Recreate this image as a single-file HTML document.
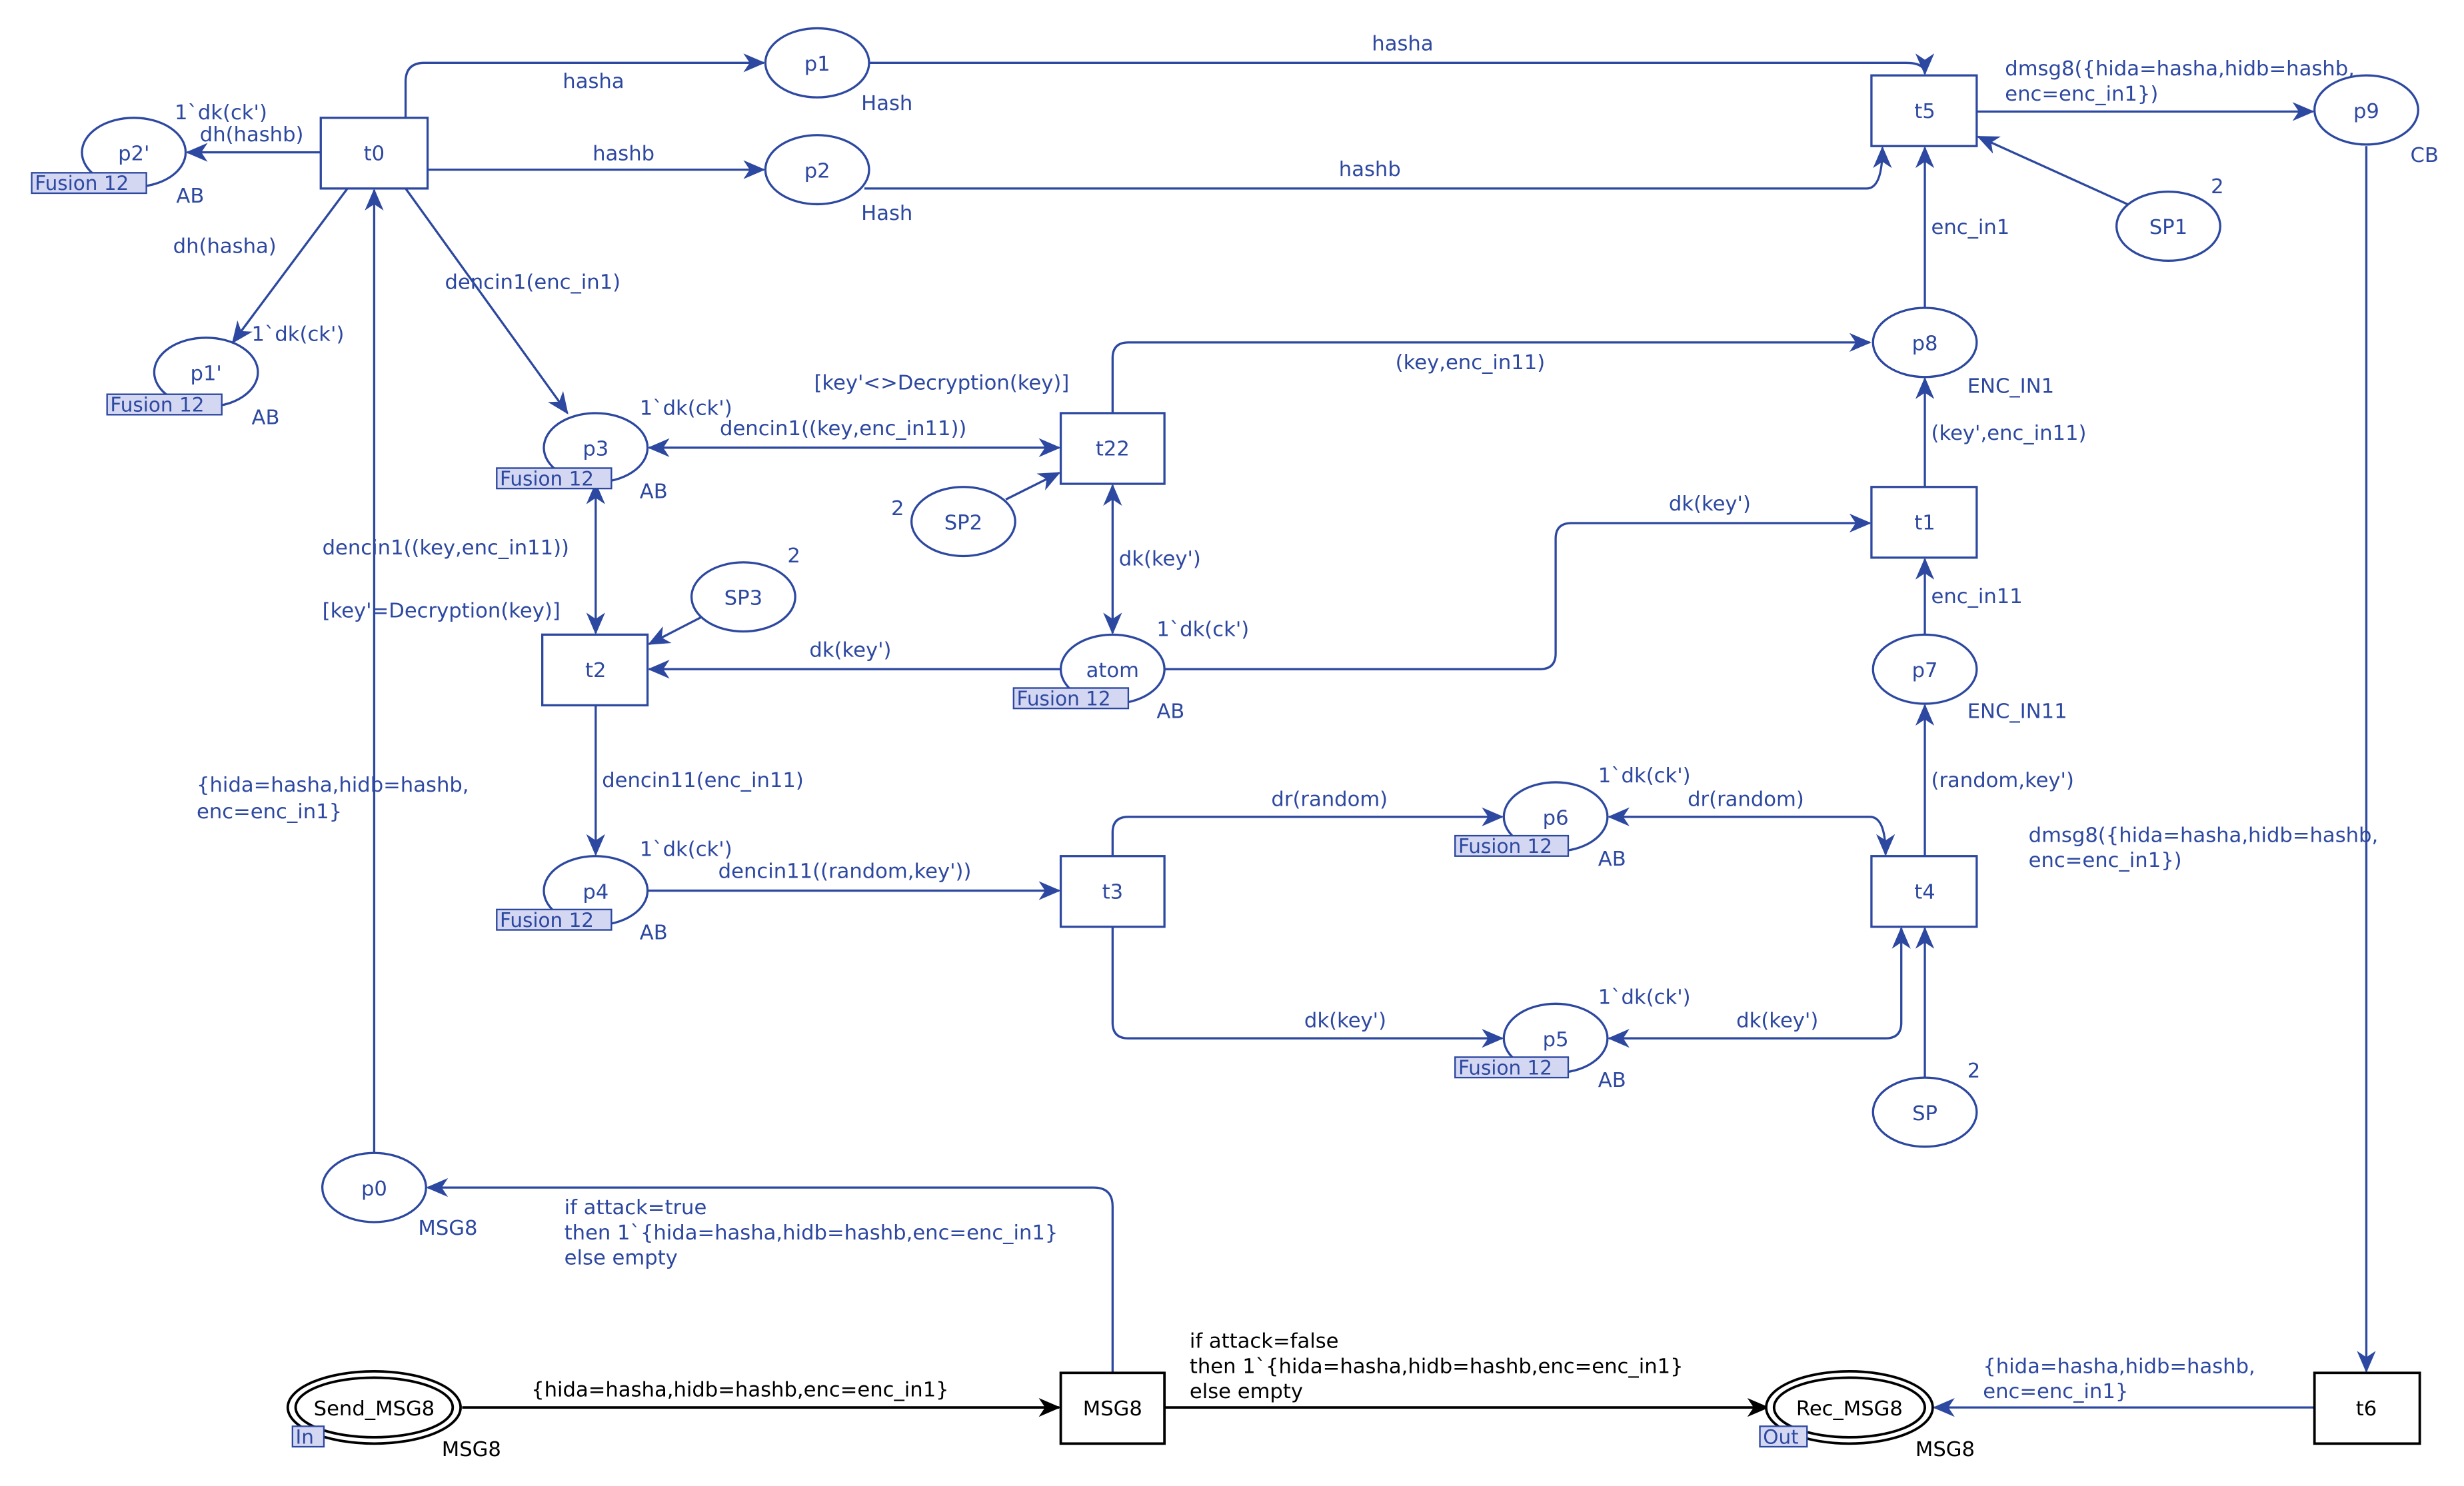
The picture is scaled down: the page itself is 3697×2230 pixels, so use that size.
<!DOCTYPE html>
<html><head><meta charset="utf-8"><style>
html,body{margin:0;padding:0;background:#fff;}
svg{display:block;}
text{font-family:"DejaVu Sans","Liberation Sans",sans-serif;font-size:13px;fill:#2d48a0;}
.k{fill:#000;}
.c{text-anchor:middle;}
.b{stroke:#2d48a0;stroke-width:1.4;fill:none;}
.bk{stroke:#000;stroke-width:1.6;fill:none;}
.n{stroke:#2d48a0;stroke-width:1.4;fill:#fff;}
.nk{stroke:#000;stroke-width:1.6;fill:#fff;}
.f{fill:#d4d7f2;stroke:#2d48a0;stroke-width:1;}
.ft{font-size:12.5px;}
</style></head><body>
<svg width="3697" height="2230" viewBox="0 0 1568 946" xmlns="http://www.w3.org/2000/svg">
<defs>
<marker id="a" viewBox="0 0 14 12" refX="13" refY="6" markerWidth="14" markerHeight="12" markerUnits="userSpaceOnUse" orient="auto-start-reverse"><path d="M0,0 L14,6 L0,12 L4,6 Z" fill="#2d48a0"/></marker>
<marker id="k" viewBox="0 0 14 12" refX="13" refY="6" markerWidth="14" markerHeight="12" markerUnits="userSpaceOnUse" orient="auto-start-reverse"><path d="M0,0 L14,6 L0,12 L4,6 Z" fill="#000"/></marker>
</defs>

<!-- arcs -->
<path class="b" d="M258,75 V52 Q258,40 270,40 H486" marker-end="url(#a)"/>
<path class="b" d="M272,108 H486" marker-end="url(#a)"/>
<path class="b" d="M553,40 H1213 Q1225,40 1225,47" marker-end="url(#a)"/>
<path class="b" d="M550,120 H1188 Q1198,120 1198,94" marker-end="url(#a)"/>
<path class="b" d="M1258,71 H1472" marker-end="url(#a)"/>
<path class="b" d="M1354,130 L1259,87" marker-end="url(#a)"/>
<path class="b" d="M1225,196 V94" marker-end="url(#a)"/>
<path class="b" d="M1225,310 V241" marker-end="url(#a)"/>
<path class="b" d="M1225,404 V356" marker-end="url(#a)"/>
<path class="b" d="M1225,545 V449" marker-end="url(#a)"/>
<path class="b" d="M1225,686 V591" marker-end="url(#a)"/>
<path class="b" d="M1024,520 H1190 Q1200,520 1200,544" marker-start="url(#a)" marker-end="url(#a)"/>
<path class="b" d="M708,545 V530 Q708,520 718,520 H956" marker-end="url(#a)"/>
<path class="b" d="M708,590 V651 Q708,661 718,661 H956" marker-end="url(#a)"/>
<path class="b" d="M1024,661 H1200 Q1210,661 1210,651 V591" marker-start="url(#a)" marker-end="url(#a)"/>
<path class="b" d="M412,567 H674" marker-end="url(#a)"/>
<path class="b" d="M379,449 V544" marker-end="url(#a)"/>
<path class="b" d="M379,308 V403" marker-start="url(#a)" marker-end="url(#a)"/>
<path class="b" d="M413,285 H674" marker-start="url(#a)" marker-end="url(#a)"/>
<path class="b" d="M708,309 V403" marker-start="url(#a)" marker-end="url(#a)"/>
<path class="b" d="M640,318 L674,301" marker-end="url(#a)"/>
<path class="b" d="M446,393 L413,410" marker-end="url(#a)"/>
<path class="b" d="M675,426 H413" marker-end="url(#a)"/>
<path class="b" d="M741,426 H980 Q990,426 990,416 V343 Q990,333 1000,333 H1190" marker-end="url(#a)"/>
<path class="b" d="M708,263 V228 Q708,218 718,218 H1190" marker-end="url(#a)"/>
<path class="b" d="M221,120 L148,218" marker-end="url(#a)"/>
<path class="b" d="M204,97 H119" marker-end="url(#a)"/>
<path class="b" d="M258,120 L361,263" marker-end="url(#a)"/>
<path class="b" d="M238,734 V121" marker-end="url(#a)"/>
<path class="b" d="M708,874 V768 Q708,756 696,756 H272" marker-end="url(#a)"/>
<path class="bk" d="M294,896 H674" marker-end="url(#k)"/>
<path class="bk" d="M741,896 H1125" marker-end="url(#k)"/>
<path class="b" d="M1473,896 H1231" marker-end="url(#a)"/>
<path class="b" d="M1506,93 V873" marker-end="url(#a)"/>

<!-- transitions -->
<rect class="n" x="204" y="75" width="68" height="45"/><text class="c" x="238" y="102">t0</text>
<rect class="n" x="1191" y="48" width="67" height="45"/><text class="c" x="1225" y="75">t5</text>
<rect class="n" x="675" y="263" width="66" height="45"/><text class="c" x="708" y="290">t22</text>
<rect class="n" x="1191" y="310" width="67" height="45"/><text class="c" x="1225" y="337">t1</text>
<rect class="n" x="345" y="404" width="67" height="45"/><text class="c" x="379" y="431">t2</text>
<rect class="n" x="675" y="545" width="66" height="45"/><text class="c" x="708" y="572">t3</text>
<rect class="n" x="1191" y="545" width="67" height="45"/><text class="c" x="1225" y="572">t4</text>
<rect class="nk" x="675" y="874" width="66" height="45"/><text class="c k" x="708" y="901">MSG8</text>
<rect class="nk" x="1473" y="874" width="67" height="45"/><text class="c k" x="1506" y="901">t6</text>

<!-- places -->
<ellipse class="n" cx="520" cy="40" rx="33" ry="22"/><text class="c" x="520" y="45">p1</text>
<ellipse class="n" cx="520" cy="108" rx="33" ry="22"/><text class="c" x="520" y="113">p2</text>
<ellipse class="n" cx="85" cy="97" rx="33" ry="22"/><text class="c" x="85" y="102">p2'</text>
<ellipse class="n" cx="131" cy="237" rx="33" ry="22"/><text class="c" x="131" y="242">p1'</text>
<ellipse class="n" cx="379" cy="285" rx="33" ry="22"/><text class="c" x="379" y="290">p3</text>
<ellipse class="n" cx="379" cy="567" rx="33" ry="22"/><text class="c" x="379" y="572">p4</text>
<ellipse class="n" cx="473" cy="380" rx="33" ry="22"/><text class="c" x="473" y="385">SP3</text>
<ellipse class="n" cx="613" cy="332" rx="33" ry="22"/><text class="c" x="613" y="337">SP2</text>
<ellipse class="n" cx="708" cy="426" rx="33" ry="22"/><text class="c" x="708" y="431">atom</text>
<ellipse class="n" cx="1225" cy="218" rx="33" ry="22"/><text class="c" x="1225" y="223">p8</text>
<ellipse class="n" cx="1380" cy="144" rx="33" ry="22"/><text class="c" x="1380" y="149">SP1</text>
<ellipse class="n" cx="1506" cy="70" rx="33" ry="22"/><text class="c" x="1506" y="75">p9</text>
<ellipse class="n" cx="1225" cy="426" rx="33" ry="22"/><text class="c" x="1225" y="431">p7</text>
<ellipse class="n" cx="990" cy="520" rx="33" ry="22"/><text class="c" x="990" y="525">p6</text>
<ellipse class="n" cx="990" cy="661" rx="33" ry="22"/><text class="c" x="990" y="666">p5</text>
<ellipse class="n" cx="1225" cy="708" rx="33" ry="22"/><text class="c" x="1225" y="713">SP</text>
<ellipse class="n" cx="238" cy="756" rx="33" ry="22"/><text class="c" x="238" y="761">p0</text>
<ellipse class="nk" cx="238" cy="896" rx="55" ry="23"/><ellipse class="nk" cx="238" cy="896" rx="50" ry="19"/><text class="c k" x="238" y="901">Send_MSG8</text>
<ellipse class="nk" cx="1177" cy="896" rx="53" ry="23"/><ellipse class="nk" cx="1177" cy="896" rx="48" ry="19"/><text class="c k" x="1177" y="901">Rec_MSG8</text>

<!-- fusion / port tags -->
<rect class="f" x="20" y="110" width="73" height="13"/><text class="ft" x="22" y="121">Fusion 12</text>
<rect class="f" x="68" y="251" width="73" height="13"/><text class="ft" x="70" y="262">Fusion 12</text>
<rect class="f" x="316" y="298" width="73" height="13"/><text class="ft" x="318" y="309">Fusion 12</text>
<rect class="f" x="316" y="579" width="73" height="13"/><text class="ft" x="318" y="590">Fusion 12</text>
<rect class="f" x="645" y="438" width="73" height="13"/><text class="ft" x="647" y="449">Fusion 12</text>
<rect class="f" x="926" y="532" width="72" height="13"/><text class="ft" x="928" y="543">Fusion 12</text>
<rect class="f" x="926" y="673" width="72" height="13"/><text class="ft" x="928" y="684">Fusion 12</text>
<rect class="f" x="186" y="908" width="20" height="13"/><text class="ft" x="188" y="919">In</text>
<rect class="f" x="1120" y="908" width="30" height="13"/><text class="ft" x="1122" y="919">Out</text>

<!-- color sets -->
<text x="548" y="70">Hash</text>
<text x="548" y="140">Hash</text>
<text x="112" y="129">AB</text>
<text x="160" y="270">AB</text>
<text x="407" y="317">AB</text>
<text x="407" y="598">AB</text>
<text x="736" y="457">AB</text>
<text x="1252" y="250">ENC_IN1</text>
<text x="1252" y="457">ENC_IN11</text>
<text x="1017" y="551">AB</text>
<text x="1017" y="692">AB</text>
<text x="1534" y="103">CB</text>
<text x="266" y="786">MSG8</text>
<text class="k" x="281" y="927">MSG8</text>
<text class="k" x="1219" y="927">MSG8</text>

<!-- arc labels -->
<text x="358" y="56">hasha</text>
<text x="377" y="102">hashb</text>
<text x="873" y="32">hasha</text>
<text x="852" y="112">hashb</text>
<text x="1276" y="48">dmsg8({hida=hasha,hidb=hashb,</text>
<text x="1276" y="64">enc=enc_in1})</text>
<text x="1407" y="123">2</text>
<text x="1229" y="149">enc_in1</text>
<text x="1229" y="280">(key',enc_in11)</text>
<text x="1229" y="384">enc_in11</text>
<text x="1229" y="501">(random,key')</text>
<text x="1252" y="686">2</text>
<text x="1291" y="536">dmsg8({hida=hasha,hidb=hashb,</text>
<text x="1291" y="552">enc=enc_in1})</text>
<text x="1074" y="513">dr(random)</text>
<text x="809" y="513">dr(random)</text>
<text x="830" y="654">dk(key')</text>
<text x="1105" y="654">dk(key')</text>
<text x="1017" y="498">1`dk(ck')</text>
<text x="1017" y="639">1`dk(ck')</text>
<text x="457" y="559">dencin11((random,key'))</text>
<text x="383" y="501">dencin11(enc_in11)</text>
<text x="407" y="545">1`dk(ck')</text>
<text x="407" y="264">1`dk(ck')</text>
<text x="458" y="277">dencin1((key,enc_in11))</text>
<text x="518" y="248">[key'&lt;&gt;Decryption(key)]</text>
<text x="888" y="235">(key,enc_in11)</text>
<text x="712" y="360">dk(key')</text>
<text x="567" y="328">2</text>
<text x="501" y="358">2</text>
<text x="515" y="418">dk(key')</text>
<text x="736" y="405">1`dk(ck')</text>
<text x="1062" y="325">dk(key')</text>
<text x="205" y="353">dencin1((key,enc_in11))</text>
<text x="205" y="393">[key'=Decryption(key)]</text>
<text x="283" y="184">dencin1(enc_in1)</text>
<text x="110" y="161">dh(hasha)</text>
<text x="160" y="217">1`dk(ck')</text>
<text x="111" y="76">1`dk(ck')</text>
<text x="127" y="90">dh(hashb)</text>
<text x="125" y="504">{hida=hasha,hidb=hashb,</text>
<text x="125" y="521">enc=enc_in1}</text>
<text x="359" y="773">if attack=true</text>
<text x="359" y="789">then 1`{hida=hasha,hidb=hashb,enc=enc_in1}</text>
<text x="359" y="805">else empty</text>
<text class="k" x="338" y="889">{hida=hasha,hidb=hashb,enc=enc_in1}</text>
<text class="k" x="757" y="858">if attack=false</text>
<text class="k" x="757" y="874">then 1`{hida=hasha,hidb=hashb,enc=enc_in1}</text>
<text class="k" x="757" y="890">else empty</text>
<text x="1262" y="874">{hida=hasha,hidb=hashb,</text>
<text x="1262" y="890">enc=enc_in1}</text>
</svg>
</body></html>
